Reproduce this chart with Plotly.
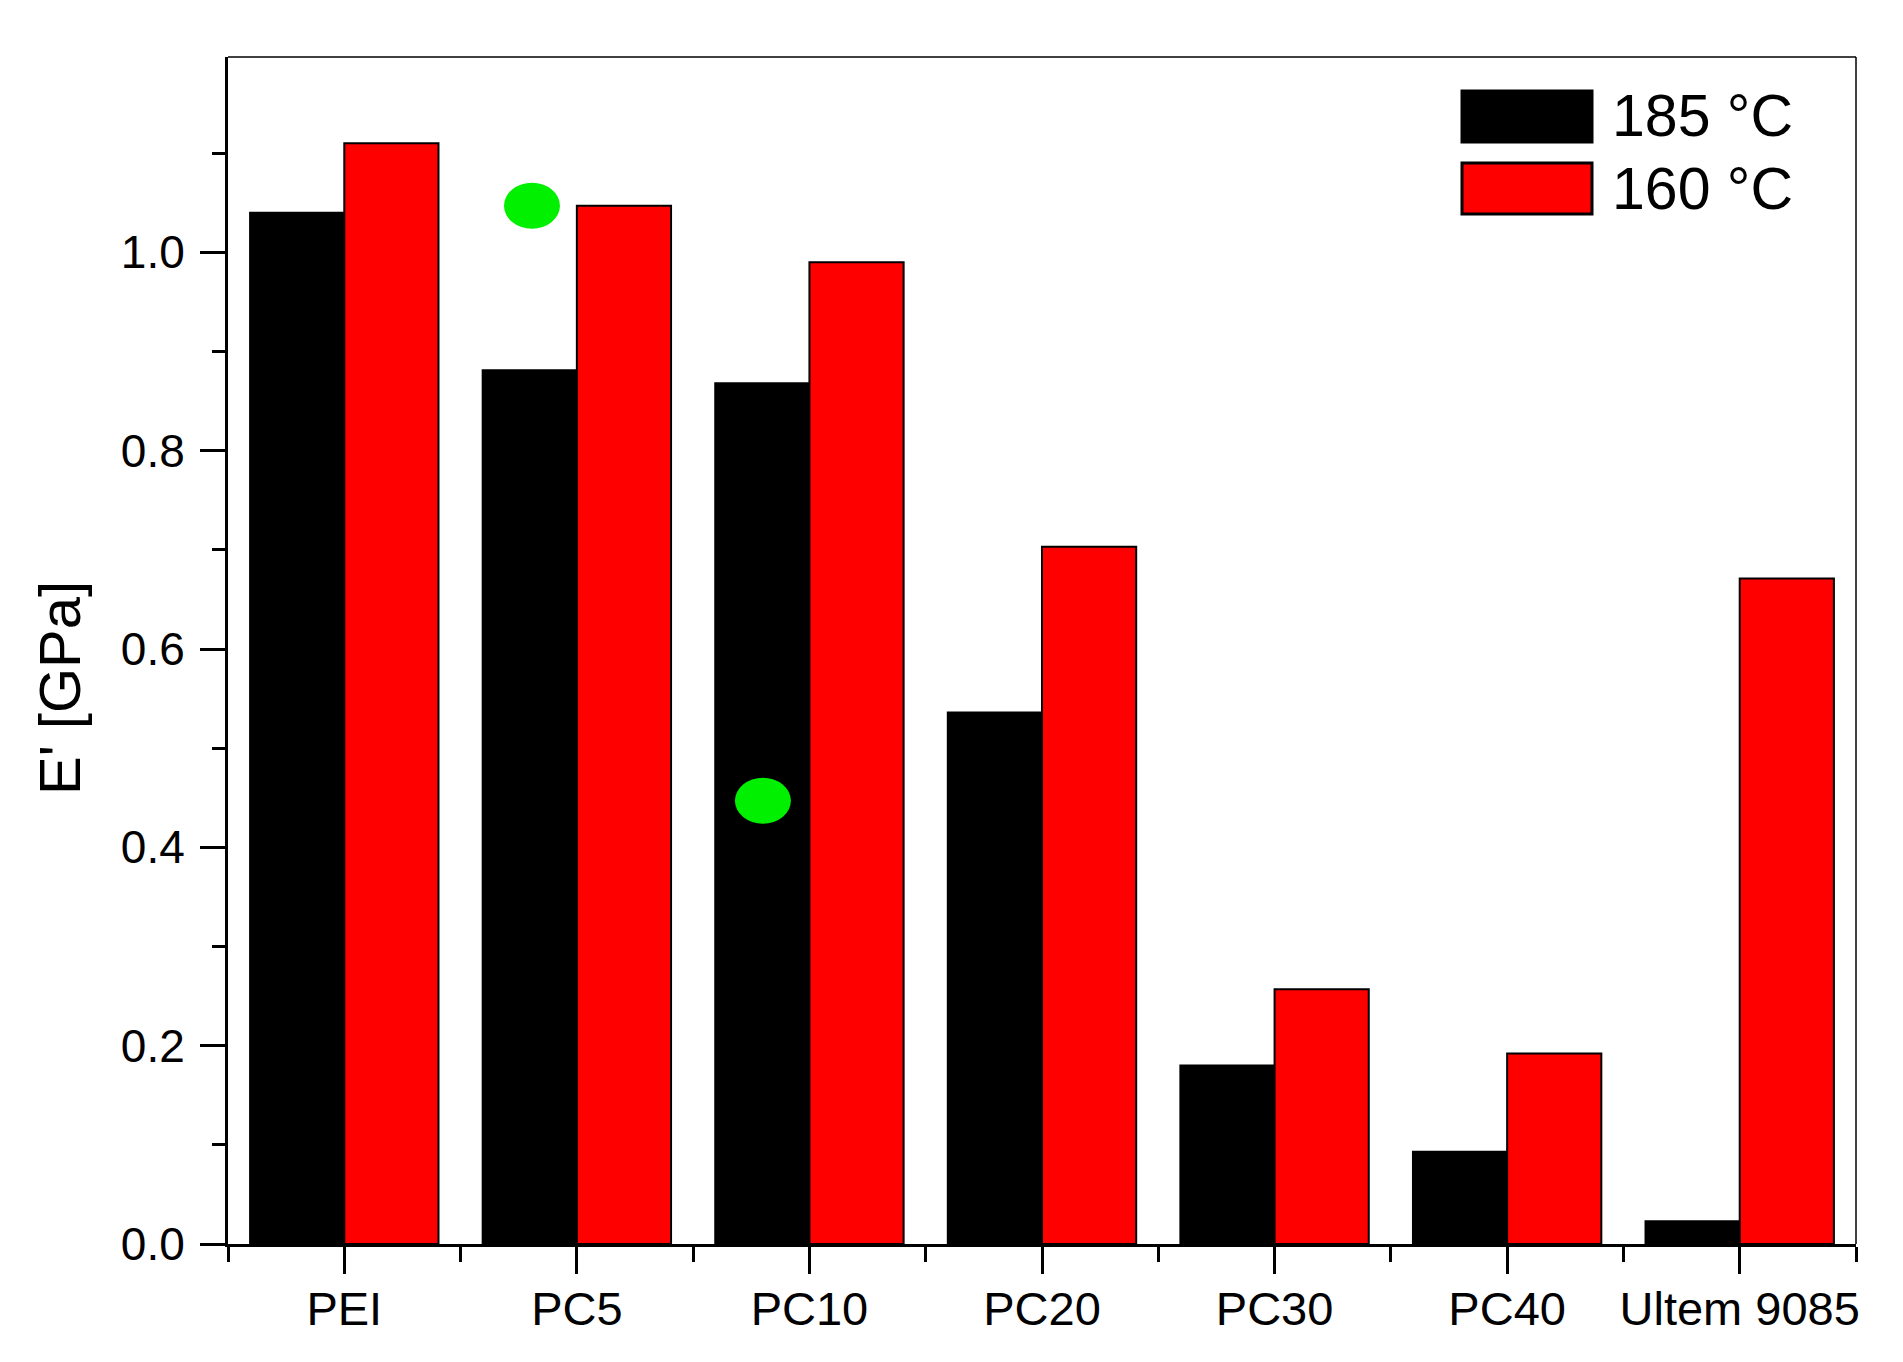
import plotly.graph_objects as go

categories = ["PEI", "PC5", "PC10", "PC20", "PC30", "PC40", "Ultem 9085"]
e_185 = [1.040, 0.881, 0.868, 0.536, 0.180, 0.093, 0.023]
e_160 = [1.110, 1.047, 0.990, 0.703, 0.257, 0.192, 0.671]
series_names = ["185 °C", "160 °C"]
series_colors = ["#000000", "#ff0000"]
y_ticks = [0.0, 0.2, 0.4, 0.6, 0.8, 1.0]
y_tick_labels = ["0.0", "0.2", "0.4", "0.6", "0.8", "1.0"]
dot_x = [0.807, 1.80]
dot_y = [1.047, 0.447]

FONT = "Arial, Liberation Sans, sans-serif"
xpos = list(range(len(categories)))

fig = go.Figure()
for name, vals, col in zip(series_names, [e_185, e_160], series_colors):
    fig.add_trace(go.Bar(
        x=xpos, y=vals, name=name,
        marker=dict(color=col, line=dict(color="black", width=2)),
        showlegend=False,
    ))

# green ellipses
for dx, dy in zip(dot_x, dot_y):
    fig.add_shape(type="circle", xref="x", yref="y",
                  xsizemode="pixel", ysizemode="pixel",
                  xanchor=dx, yanchor=dy,
                  x0=-28, x1=28, y0=-23, y1=23,
                  fillcolor="#00f000", line=dict(width=0), layer="above")

# page has an 8px body margin
OFF = 8
L, R, T, B = 228, 1856, 57, 1244
W, H = R - L, B - T
FIG_W, FIG_H = 1903 - 2 * OFF, 1362 - 2 * OFF
def px(x): return (x - L) / W
def py(y): return (B - y) / H

legend_rows = [(91, 142, 116), (163, 214, 189)]
for (y0, y1, yc), name, col in zip(legend_rows, series_names, series_colors):
    fig.add_shape(type="rect", xref="paper", yref="paper",
                  x0=px(1462), x1=px(1592), y0=py(y1), y1=py(y0),
                  fillcolor=col, line=dict(color="black", width=3))
    fig.add_annotation(xref="paper", yref="paper", x=px(1610), y=py(yc),
                       xanchor="left", yanchor="middle", text=name,
                       showarrow=False, font=dict(family=FONT, size=59, color="black"))

# top and right thin frame
fig.add_shape(type="line", xref="paper", yref="paper", x0=0, x1=1, y0=1, y1=1,
              line=dict(color="black", width=1.5))
fig.add_shape(type="line", xref="paper", yref="paper", x0=1, x1=1, y0=0, y1=1,
              line=dict(color="black", width=1.5))

# y-axis title
fig.add_annotation(xref="paper", yref="paper", x=0, xshift=59 - L, y=py(688),
                   xanchor="center", yanchor="middle", textangle=-90,
                   text="E' [GPa]", showarrow=False,
                   font=dict(family=FONT, size=58, color="black"))

fig.update_layout(
    width=FIG_W, height=FIG_H,
    margin=dict(l=L - OFF, r=OFF + FIG_W - R, t=T - OFF, b=FIG_H - (B - OFF)),
    plot_bgcolor="white", paper_bgcolor="white",
    barmode="group", bargap=0.19, bargroupgap=0,
    font=dict(family=FONT, color="black"),
)
fig.update_xaxes(
    range=[-0.5, len(categories) - 0.5],
    tickmode="array", tickvals=xpos, ticktext=categories,
    ticks="outside", ticklen=27, tickwidth=3, tickcolor="black",
    tickfont=dict(family=FONT, size=47, color="black"),
    ticklabelstandoff=-5,
    showline=True, linecolor="black", linewidth=3,
    showgrid=False, zeroline=False,
    minor=dict(tickmode="array", tickvals=[i - 0.5 for i in range(len(categories) + 1)],
               ticks="outside", ticklen=15, tickwidth=3, tickcolor="black", showgrid=False),
)
fig.update_yaxes(
    range=[0, 1.197],
    tickmode="array", tickvals=y_ticks, ticktext=y_tick_labels,
    ticks="outside", ticklen=25, tickwidth=3, tickcolor="black",
    tickfont=dict(family=FONT, size=46, color="black"),
    ticklabelstandoff=6,
    showline=True, linecolor="black", linewidth=3,
    showgrid=False, zeroline=False,
    minor=dict(tickmode="linear", tick0=0.1, dtick=0.2,
               ticks="outside", ticklen=13, tickwidth=3, tickcolor="black", showgrid=False),
)

fig.write_html("out.html")
